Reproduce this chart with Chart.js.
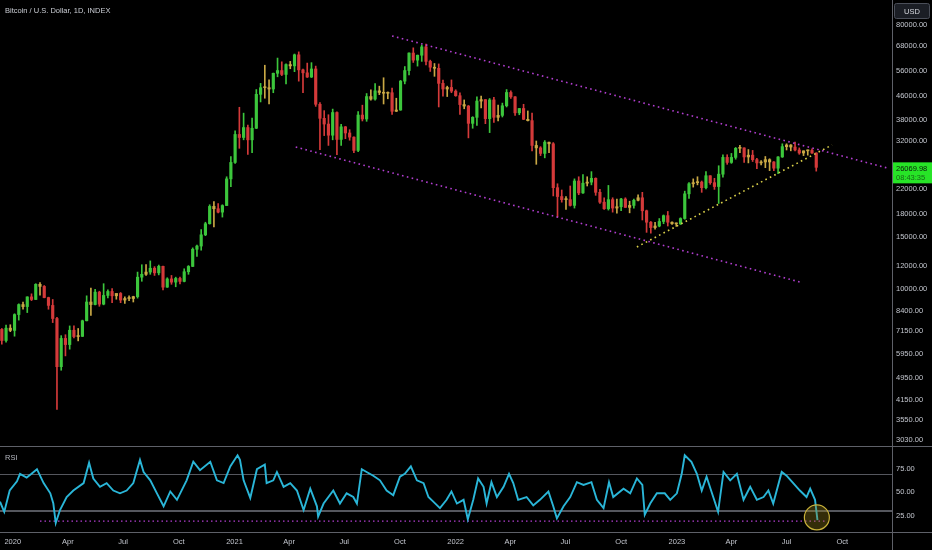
<!DOCTYPE html>
<html>
<head>
<meta charset="utf-8">
<script src="https://cdn.jsdelivr.net/npm/chart.js@4.4.0/dist/chart.umd.min.js"></script>
<style>
  html, body { margin: 0; padding: 0; background: #000; }
  #wrap { position: relative; width: 932px; height: 550px; background: #000; overflow: hidden; }
  #price { position: absolute; left: 0; top: 0; }
  #rsi { position: absolute; left: 0; top: 446px; }
</style>
</head>
<body>
<div id="wrap">
  <canvas id="price" width="932" height="446"></canvas>
  <canvas id="rsi" width="932" height="104"></canvas>
</div>
<script>
// dark TradingView-ish look
Chart.defaults.color = '#c3c6ce';
Chart.defaults.font.family = '"Liberation Sans", Arial, sans-serif';
Chart.defaults.font.size = 7.5;

// x axis = days since 2020-01-01
const X_MIN = -21, X_MAX = 1451;

// weekly candles, first week starts 2019-12-11 (day -21)
const FIRST_WEEK = -21;
const firstOpen = 7250;
const closes = [
  6640, 7320, 7190, 8150, 8820, 8680, 9370, 9180, 10350, 10180,
  9320, 8760, 7900, 5400, 6750, 6430, 7200, 6850, 6860, 7760,
  9000, 8820, 9730, 8850, 9480, 9780, 9450, 9630, 9140, 9250,
  9250, 9390, 10950, 11200, 11400, 11750, 11330, 11930, 10120, 10800,
  10530, 10840, 10590, 11430, 11920, 13650, 14000, 15300, 16700, 19150,
  18800, 18300, 19280, 23800, 27100, 33800, 33000, 35700, 32400, 35500,
  46400, 48900, 48900, 48400, 54800, 56000, 54300, 58700, 58100, 63400,
  56300, 55000, 53200, 56700, 42900, 38400, 36700, 33600, 40200, 32500,
  35900, 34200, 33100, 29800, 39400, 38200, 45600, 44700, 47700, 47100,
  46800, 47000, 40600, 41000, 51500, 56000, 64300, 60800, 63200, 67500,
  60200, 57500, 57000, 50600, 48400, 49000, 47600, 45900, 42800, 42300,
  36900, 38700, 44000, 44500, 38300, 44400, 38700, 39300, 42400, 47100,
  45500, 40100, 41500, 38100, 37700, 31000, 30400, 29100, 31800, 31400,
  22200, 20700, 20200, 20200, 19300, 23400, 21300, 23000, 23200, 23900,
  21400, 19800, 18800, 20200, 18900, 19100, 20300, 19000, 19300, 20100,
  20500, 18500, 16900, 16200, 16400, 17000, 17800, 16900, 16700, 16680,
  17400, 21150, 22900, 23100, 23200, 22200, 24400, 23100, 22400, 24700,
  28200, 27100, 28200, 30300, 30400, 28300, 28700, 27700, 27000, 27200,
  27700, 27200, 25900, 28300, 30700, 31100, 30600, 29900, 29200, 29700,
  29800, 29200, 26070
];
const highs = [
  7300, 7500, 7520, 8200, 8870, 9000, 9380, 9600, 10400, 10500,
  10250, 9350, 9180, 7980, 6900, 6950, 7450, 7450, 7300, 7800,
  9450, 10050, 9950, 9800, 10400, 9900, 10000, 9600, 9700, 9380,
  9450, 9420, 11400, 12080, 12100, 12450, 11900, 12050, 11950, 10900,
  11100, 10950, 10950, 11700, 12000, 13800, 14100, 15950, 16900, 19400,
  19900, 19600, 19400, 24200, 28400, 34800, 41900, 40000, 36400, 38500,
  48200, 50600, 58400, 52000, 54900, 61800, 60000, 59000, 60200, 63800,
  64900, 56700, 59400, 59600, 58000, 43500, 40800, 39500, 41300, 40400,
  36600, 36000, 35100, 33200, 40500, 42600, 46700, 48100, 50500, 49500,
  52900, 47300, 48800, 45000, 51800, 57800, 64400, 67000, 63300, 68500,
  69000, 60800, 59200, 59000, 51900, 49500, 52000, 48100, 47000, 44400,
  42500, 38900, 45500, 45800, 44500, 44900, 45300, 42600, 43300, 48200,
  47700, 45600, 41500, 42900, 40700, 40000, 32100, 30700, 32200, 31800,
  31700, 22900, 21800, 20700, 22500, 23800, 24200, 24600, 24200, 25200,
  24000, 21900, 20500, 22600, 20500, 20300, 20400, 20500, 19950, 20300,
  21000, 21400, 18600, 17000, 16900, 17400, 17900, 18400, 16950, 16800,
  17500, 21600, 23100, 23800, 24200, 23400, 25200, 24400, 23900, 26400,
  28800, 28800, 29100, 30500, 31000, 30400, 30000, 29800, 28000, 27500,
  28400, 27900, 27300, 28400, 31400, 31400, 31200, 31800, 30400, 29700,
  29900, 30200, 29250
];
const lows = [
  6450, 6550, 7120, 6870, 7800, 8500, 8280, 9100, 9180, 9500,
  9300, 8500, 7650, 3850, 5250, 5880, 6200, 6780, 6620, 6850,
  7750, 8100, 8800, 8700, 8800, 9300, 8950, 9200, 8950, 8900,
  9100, 9000, 9280, 10600, 11100, 11200, 11100, 11150, 9900, 10100,
  10350, 10150, 10380, 10550, 11200, 11900, 12900, 13550, 15200, 16650,
  16300, 18200, 17600, 19280, 22400, 26900, 30300, 32400, 28900, 29300,
  35400, 43700, 45000, 43000, 47000, 53300, 53800, 50400, 56800, 55500,
  51500, 47000, 53000, 53000, 42200, 30000, 33500, 31000, 32400, 28800,
  31000, 32700, 32300, 29300, 29500, 37600, 37500, 44300, 44300, 46300,
  43000, 44800, 39600, 40500, 40900, 50400, 54100, 59700, 58000, 60200,
  58600, 55600, 53500, 42000, 45700, 45600, 47000, 45700, 39600, 41400,
  32900, 35500, 36300, 41700, 36800, 34300, 37200, 37600, 38800, 42000,
  44900, 39300, 39500, 38000, 37600, 29700, 26700, 28600, 28100, 29300,
  20800, 17600, 19800, 18700, 19200, 18900, 21000, 21200, 22500, 22700,
  20900, 19600, 18700, 18600, 18300, 18150, 18500, 19000, 18200, 18900,
  20000, 17200, 15600, 15500, 16000, 16300, 16700, 16400, 16600, 16350,
  16600, 17300, 20400, 22300, 22700, 21400, 22000, 22800, 21900, 19600,
  24100, 26700, 26900, 27800, 29300, 27100, 27000, 27300, 25800, 26600,
  26000, 25400, 25400, 24800, 28200, 29900, 29700, 29700, 28900, 28600,
  28700, 29100, 25300
];

// price axis labels (log scale)
const priceTicks = [80000, 68000, 56000, 46000, 38000, 32000, 22000, 18000, 15000,
  12000, 10000, 8400, 7150, 5950, 4950, 4150, 3550, 3030];
const PRICE_MIN = 2886, PRICE_MAX = 97760;
const lastPrice = 26069.98;
const countdown = '08:43:35';

// time axis labels
const xTickDays = [0, 91, 182, 274, 366, 456, 547, 639, 731, 821, 912, 1004, 1096, 1186, 1277, 1369];
const xTickLabels = ['2020', 'Apr', 'Jul', 'Oct', '2021', 'Apr', 'Jul', 'Oct', '2022', 'Apr', 'Jul', 'Oct', '2023', 'Apr', 'Jul', 'Oct'];

// RSI (14)
const rsiDays = [
  -21, -14, -5, 7, 12, 23, 31, 40, 51, 62, 67, 71, 78, 89, 100, 117, 126, 133, 144, 155,
  166, 177, 188, 199, 210, 216, 227, 238, 249, 260, 271, 287, 298, 309, 326, 337, 348, 359, 371, 375,
  381, 392, 403, 416, 419, 430, 436, 447, 458, 469, 480, 491, 502, 504, 513, 529, 540, 551, 562, 568,
  576, 584, 595, 606, 617, 628, 639, 647, 657, 667, 678, 686, 694, 705, 716, 724, 733, 744, 751, 760,
  768, 777, 782, 790, 799, 810, 819, 826, 834, 848, 859, 870, 884, 892, 898, 909, 920, 931, 942, 955,
  964, 975, 984, 991, 1008, 1019, 1030, 1039, 1043, 1052, 1063, 1076, 1085, 1096, 1104, 1109, 1120, 1129, 1137, 1145,
  1156, 1164, 1173, 1184, 1195, 1206, 1217, 1228, 1239, 1247, 1255, 1269, 1277, 1288, 1299, 1310, 1316, 1324, 1328
];
const rsiValues = [
  40, 29, 52, 62, 70, 66, 70, 75, 60, 49, 38, 17, 31, 45, 52, 60, 82, 65, 56, 60,
  52, 49, 52, 60, 85, 72, 63, 49, 35, 51, 42, 63, 83, 74, 83, 63, 60, 78, 90, 85,
  63, 44, 75, 80, 60, 63, 72, 56, 60, 52, 31, 54, 35, 24, 38, 52, 38, 49, 45, 38,
  75, 72, 68, 63, 52, 47, 67, 70, 78, 63, 60, 45, 40, 33, 42, 51, 38, 42, 21, 42,
  65, 56, 38, 61, 45, 56, 70, 60, 42, 45, 36, 42, 51, 35, 22, 35, 45, 61, 58, 61,
  42, 33, 61, 45, 54, 49, 65, 58, 26, 38, 49, 49, 42, 49, 70, 90, 83, 70, 52, 67,
  45, 29, 72, 63, 70, 42, 56, 42, 45, 52, 38, 72, 68, 60, 52, 45, 54, 42, 20
];

// hand-drawn lines on the chart, [day, value]
const upperChannel = [[626, 73600], [1444, 25900]];
const lowerChannel = [[467, 30600], [1299, 10540]];
const supportLine = [[1030, 13900], [1352, 31100]];
const rsiFloor = [[45, 19], [1344, 19]];
const rsiCircle = [[1327, 23]];

const AXIS_W = 40;
const LINE_GREY = '#5e6068';
const MAGENTA = '#b23ed0';
const YELLOW = '#dcd24a';

const opens = closes.map((c, i) => i ? closes[i - 1] : firstOpen);
const days = closes.map((c, i) => FIRST_WEEK + 7 * i + 3);
const candleColor = closes.map((c, i) => {
  const ch = (c - opens[i]) / opens[i];
  return ch > 0.02 ? '#3cc63c' : ch < -0.02 ? '#d43a3a' : '#c9a845';
});
const pts = arr => arr.map(p => ({ x: p[0], y: p[1] }));

function fixY(ticks, fmt) {
  return {
    position: 'right',
    grid: { display: false, drawTicks: false },
    border: { display: false },
    ticks: { padding: 4, autoSkip: false, color: '#c3c6ce', callback: fmt },
    afterBuildTicks: s => { s.ticks = ticks.map(v => ({ value: v })); },
    afterFit: s => { s.width = AXIS_W; s.paddingTop = 0; s.paddingBottom = 0; }
  };
}

const bgPlugin = {
  id: 'bg',
  beforeDraw(c) { const g = c.ctx; g.save(); g.fillStyle = '#000'; g.fillRect(0, 0, c.width, c.height); g.restore(); }
};

const pricePlugin = {
  id: 'priceDecor',
  afterDraw(c) {
    const g = c.ctx, a = c.chartArea, y = c.scales.y;
    g.save();
    // axis line
    g.strokeStyle = LINE_GREY; g.lineWidth = 1;
    g.beginPath(); g.moveTo(a.right + 0.5, 0); g.lineTo(a.right + 0.5, c.height); g.stroke();
    // title
    g.fillStyle = '#c9ccd3'; g.font = '7.5px "Liberation Sans", Arial, sans-serif';
    g.textBaseline = 'middle'; g.textAlign = 'left';
    g.fillText('Bitcoin / U.S. Dollar, 1D, INDEX', 5, 11);
    // USD button
    g.fillStyle = '#1b1e25'; g.strokeStyle = '#4a4e58';
    g.beginPath(); g.roundRect(894.5, 3.5, 35, 15, 2); g.fill(); g.stroke();
    g.fillStyle = '#d6d8de'; g.textAlign = 'center';
    g.fillText('USD', 912, 11.5);
    // last price label
    const py = y.getPixelForValue(lastPrice);
    g.fillStyle = '#27e427';
    g.fillRect(a.right + 1, py - 5, AXIS_W - 1, 21);
    g.textAlign = 'left';
    g.fillStyle = '#0b1a0b'; g.fillText(lastPrice.toFixed(2), 896, py + 1.5);
    g.fillStyle = '#176b17'; g.fillText(countdown, 896, py + 10.5);
    g.restore();
  }
};

new Chart(document.getElementById('price'), {
  type: 'bar',
  data: {
    datasets: [
      { data: days.map((d, i) => ({ x: d, y: [lows[i], highs[i]] })), backgroundColor: candleColor,
        barThickness: 1, grouped: false, order: 3 },
      { data: days.map((d, i) => ({ x: d, y: [opens[i], closes[i]] })), backgroundColor: candleColor,
        barThickness: 2.5, minBarLength: 1, grouped: false, order: 2 },
      { type: 'line', data: pts(upperChannel), borderColor: MAGENTA, borderWidth: 1.6, borderDash: [1.6, 3.4], pointRadius: 0, order: 1 },
      { type: 'line', data: pts(lowerChannel), borderColor: MAGENTA, borderWidth: 1.6, borderDash: [1.6, 3.4], pointRadius: 0, order: 1 },
      { type: 'line', data: pts(supportLine), borderColor: YELLOW, borderWidth: 1.6, borderDash: [1.6, 3.4], pointRadius: 0, order: 1 }
    ]
  },
  options: {
    responsive: false, animation: false, devicePixelRatio: 1,
    layout: { padding: 0, autoPadding: false },
    plugins: { legend: { display: false }, tooltip: { enabled: false } },
    scales: {
      x: { type: 'linear', min: X_MIN, max: X_MAX, bounds: 'data', offset: false, display: false },
      y: Object.assign(fixY(priceTicks, v => v.toFixed(2)),
        { type: 'logarithmic', min: PRICE_MIN, max: PRICE_MAX, bounds: 'data', beginAtZero: false })
    }
  },
  plugins: [bgPlugin, pricePlugin]
});

const rsiPlugin = {
  id: 'rsiDecor',
  beforeDatasetsDraw(c) {
    const g = c.ctx, a = c.chartArea, y = c.scales.y;
    g.save();
    g.strokeStyle = '#55575e'; g.lineWidth = 1;
    let py = Math.round(y.getPixelForValue(70)) + 0.5;
    g.beginPath(); g.moveTo(a.left, py); g.lineTo(a.right, py); g.stroke();
    // the 30 band reads a bit heavier in the reference
    g.lineWidth = 2;
    py = Math.round(y.getPixelForValue(30));
    g.beginPath(); g.moveTo(a.left, py); g.lineTo(a.right, py); g.stroke();
    g.restore();
  },
  afterDraw(c) {
    const g = c.ctx, a = c.chartArea;
    g.save();
    g.strokeStyle = LINE_GREY; g.lineWidth = 1;
    g.beginPath();
    g.moveTo(0, 0.5); g.lineTo(c.width, 0.5);
    g.moveTo(0, Math.round(a.bottom) + 0.5); g.lineTo(c.width, Math.round(a.bottom) + 0.5);
    g.moveTo(a.right + 0.5, 0); g.lineTo(a.right + 0.5, c.height);
    g.stroke();
    g.fillStyle = '#b4b7bf'; g.font = '7.5px "Liberation Sans", Arial, sans-serif';
    g.textBaseline = 'middle';
    g.fillText('RSI', 5, 12);
    g.restore();
  }
};

new Chart(document.getElementById('rsi'), {
  type: 'line',
  data: {
    datasets: [
      { data: pts(rsiCircle), showLine: false, pointRadius: 12.5, pointBorderWidth: 1.2,
        pointBorderColor: '#c9b23a', pointBackgroundColor: 'rgba(150,130,25,0.35)', order: 0 },
      { data: rsiDays.map((d, i) => ({ x: d, y: rsiValues[i] })), borderColor: '#2ab6d8', borderWidth: 1.9,
        pointRadius: 0, tension: 0, order: 1 },
      { data: pts(rsiFloor), borderColor: MAGENTA, borderWidth: 1.4, borderDash: [1.5, 3], pointRadius: 0, order: 2 }
    ]
  },
  options: {
    responsive: false, animation: false, devicePixelRatio: 1,
    layout: { padding: 0, autoPadding: false },
    plugins: { legend: { display: false }, tooltip: { enabled: false } },
    scales: {
      x: {
        type: 'linear', min: X_MIN, max: X_MAX, bounds: 'data', position: 'bottom',
        grid: { display: false, drawTicks: false }, border: { display: false },
        ticks: { padding: 5, autoSkip: false, maxRotation: 0, color: '#c3c6ce',
          callback: v => xTickLabels[xTickDays.indexOf(v)] },
        afterBuildTicks: s => { s.ticks = xTickDays.map(v => ({ value: v })); },
        afterFit: s => { s.height = 18; s.paddingLeft = 0; s.paddingRight = 0; }
      },
      y: Object.assign(fixY([25, 50, 75], v => v.toFixed(2)), { type: 'linear', min: 7.3, max: 100 })
    }
  },
  plugins: [bgPlugin, rsiPlugin]
});
</script>
</body>
</html>
